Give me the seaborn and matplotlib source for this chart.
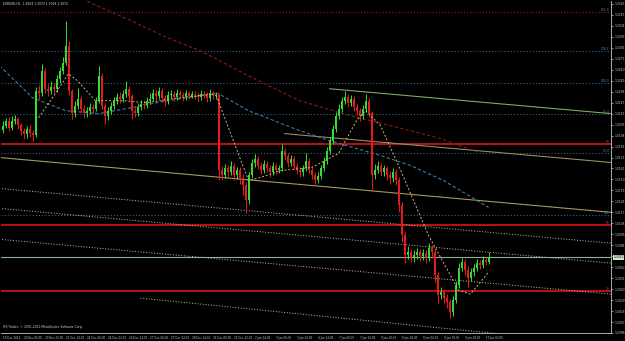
import numpy as np
import pandas as pd
import matplotlib
matplotlib.use("Agg")
import matplotlib.pyplot as plt
import matplotlib.transforms as mtransforms
import seaborn as sns

# ---------------- data ----------------
chart_title = "EURUSD,H1  1.3069 1.3073 1.3068 1.3072"
copyright_text = "IFX Trader, \u00a9 2001-2012 MetaQuotes Software Corp."

first_open = 1.3200
close = [1.3204, 1.3209, 1.3202, 1.3209, 1.3211, 1.3205, 1.3199, 1.3196, 1.3201, 1.3197,
         1.3195, 1.3239, 1.3237, 1.3259, 1.3241, 1.3239, 1.3243, 1.3241, 1.3251, 1.3259,
         1.3267, 1.3284, 1.3239, 1.3217, 1.3224, 1.3231, 1.3221, 1.3217, 1.3219, 1.3223,
         1.3221, 1.3229, 1.3254, 1.3224, 1.3214, 1.3219, 1.3224, 1.3229, 1.3233, 1.3231,
         1.3236, 1.3241, 1.3234, 1.3219, 1.3217, 1.3223, 1.3226, 1.3225, 1.3229, 1.3231,
         1.3237, 1.3234, 1.3239, 1.3232, 1.3229, 1.3235, 1.3236, 1.3233, 1.3237, 1.3235,
         1.3233, 1.3237, 1.3234, 1.3236, 1.3235, 1.3233, 1.3236, 1.3235, 1.3232, 1.3237,
         1.3234, 1.3235, 1.3159, 1.3154, 1.3161, 1.3157, 1.3164, 1.3154, 1.3159, 1.3151,
         1.3144, 1.3129, 1.3154, 1.3167, 1.3171, 1.3164, 1.3159, 1.3166, 1.3161, 1.3157,
         1.3164, 1.3159, 1.3161, 1.3179, 1.3174, 1.3167, 1.3171, 1.3164, 1.3159, 1.3157,
         1.3161, 1.3169, 1.3159, 1.3154, 1.3149, 1.3153, 1.3161, 1.3169, 1.3179, 1.3189,
         1.3201, 1.3214, 1.3221, 1.3229, 1.3233, 1.3227, 1.3231, 1.3223, 1.3219, 1.3214,
         1.3221, 1.3229, 1.3217, 1.3154, 1.3159, 1.3164, 1.3157, 1.3161, 1.3154, 1.3151,
         1.3157, 1.3149, 1.3124, 1.3094, 1.3074, 1.3077, 1.3071, 1.3074, 1.3077, 1.3073,
         1.3076, 1.3071, 1.3081, 1.3077, 1.3054, 1.3034, 1.3037, 1.3031, 1.3027, 1.3017,
         1.3029, 1.3044, 1.3061, 1.3067, 1.3059, 1.3051, 1.3057, 1.3061, 1.3066, 1.3064,
         1.3069, 1.3067, 1.3072]
high = [1.3209, 1.3212, 1.3213, 1.3214, 1.3215, 1.3213, 1.3207, 1.3202, 1.3204, 1.3205,
        1.3200, 1.3243, 1.3245, 1.3266, 1.3262, 1.3246, 1.3249, 1.3247, 1.3255, 1.3263,
        1.3273, 1.3309, 1.3289, 1.3241, 1.3229, 1.3242, 1.3234, 1.3225, 1.3223, 1.3227,
        1.3226, 1.3233, 1.3264, 1.3257, 1.3227, 1.3223, 1.3228, 1.3233, 1.3237, 1.3238,
        1.3240, 1.3249, 1.3244, 1.3236, 1.3223, 1.3227, 1.3230, 1.3230, 1.3233, 1.3237,
        1.3241, 1.3240, 1.3243, 1.3242, 1.3235, 1.3239, 1.3240, 1.3239, 1.3241, 1.3240,
        1.3238, 1.3240, 1.3239, 1.3239, 1.3239, 1.3238, 1.3240, 1.3239, 1.3238, 1.3241,
        1.3239, 1.3238, 1.3237, 1.3164, 1.3166, 1.3165, 1.3169, 1.3167, 1.3163, 1.3163,
        1.3155, 1.3147, 1.3157, 1.3171, 1.3176, 1.3174, 1.3168, 1.3170, 1.3169, 1.3165,
        1.3168, 1.3167, 1.3165, 1.3186, 1.3182, 1.3177, 1.3175, 1.3174, 1.3167, 1.3163,
        1.3165, 1.3177, 1.3172, 1.3162, 1.3157, 1.3157, 1.3165, 1.3173, 1.3183, 1.3193,
        1.3205, 1.3218, 1.3226, 1.3233, 1.3239, 1.3236, 1.3235, 1.3234, 1.3226, 1.3222,
        1.3225, 1.3236, 1.3232, 1.3219, 1.3166, 1.3169, 1.3167, 1.3165, 1.3164, 1.3158,
        1.3161, 1.3160, 1.3152, 1.3127, 1.3097, 1.3083, 1.3080, 1.3079, 1.3081, 1.3080,
        1.3080, 1.3079, 1.3086, 1.3084, 1.3080, 1.3057, 1.3042, 1.3040, 1.3035, 1.3030,
        1.3033, 1.3048, 1.3066, 1.3071, 1.3070, 1.3063, 1.3061, 1.3065, 1.3070, 1.3069,
        1.3073, 1.3072, 1.3077]
low = [1.3197, 1.3202, 1.3199, 1.3200, 1.3206, 1.3201, 1.3195, 1.3191, 1.3192, 1.3193,
       1.3189, 1.3193, 1.3231, 1.3234, 1.3237, 1.3234, 1.3236, 1.3237, 1.3238, 1.3247,
       1.3256, 1.3265, 1.3235, 1.3211, 1.3213, 1.3221, 1.3217, 1.3212, 1.3213, 1.3216,
       1.3217, 1.3219, 1.3227, 1.3221, 1.3206, 1.3210, 1.3216, 1.3221, 1.3226, 1.3227,
       1.3228, 1.3233, 1.3230, 1.3211, 1.3213, 1.3214, 1.3220, 1.3221, 1.3222, 1.3226,
       1.3229, 1.3230, 1.3231, 1.3228, 1.3224, 1.3226, 1.3232, 1.3229, 1.3230, 1.3232,
       1.3229, 1.3230, 1.3231, 1.3232, 1.3231, 1.3228, 1.3230, 1.3232, 1.3228, 1.3229,
       1.3231, 1.3231, 1.3149, 1.3149, 1.3151, 1.3152, 1.3154, 1.3149, 1.3150, 1.3145,
       1.3134, 1.3116, 1.3125, 1.3151, 1.3163, 1.3160, 1.3155, 1.3156, 1.3157, 1.3152,
       1.3154, 1.3155, 1.3156, 1.3158, 1.3170, 1.3163, 1.3164, 1.3160, 1.3155, 1.3152,
       1.3153, 1.3158, 1.3156, 1.3150, 1.3144, 1.3146, 1.3150, 1.3158, 1.3166, 1.3176,
       1.3186, 1.3198, 1.3211, 1.3218, 1.3226, 1.3223, 1.3224, 1.3219, 1.3215, 1.3209,
       1.3211, 1.3218, 1.3213, 1.3139, 1.3150, 1.3156, 1.3153, 1.3153, 1.3149, 1.3145,
       1.3147, 1.3144, 1.3117, 1.3087, 1.3066, 1.3070, 1.3067, 1.3067, 1.3070, 1.3068,
       1.3069, 1.3066, 1.3068, 1.3071, 1.3047, 1.3026, 1.3030, 1.3026, 1.3021, 1.3011,
       1.3013, 1.3026, 1.3041, 1.3058, 1.3054, 1.3042, 1.3048, 1.3053, 1.3058, 1.3060,
       1.3061, 1.3064, 1.3065]

time_labels = ["19 Dec 2012", "20 Dec 06:00", "20 Dec 22:00", "21 Dec 14:00", "24 Dec 06:00",
               "24 Dec 22:00", "26 Dec 14:00", "27 Dec 06:00", "27 Dec 22:00", "28 Dec 14:00",
               "31 Dec 06:00", "31 Dec 22:00", "2 Jan 14:00", "3 Jan 06:00", "3 Jan 22:00",
               "4 Jan 14:00", "7 Jan 06:00", "7 Jan 22:00", "8 Jan 10:00", "8 Jan 18:00",
               "9 Jan 02:00", "9 Jan 10:00", "9 Jan 18:00", "10 Jan 02:00"]

# moving averages (bar, value)
ma_fast_bar = [12, 16, 22, 25, 31, 40, 48, 57, 71, 82, 86, 93, 103, 112, 118, 121, 126, 132, 142, 152, 156, 162]
ma_fast_val = [1.3212, 1.3229, 1.3256, 1.3249, 1.3229, 1.3229, 1.3227, 1.3231, 1.3236, 1.3149, 1.3152,
               1.3159, 1.3162, 1.3176, 1.3209, 1.3219, 1.3204, 1.3164, 1.3094, 1.3039, 1.3035, 1.3057]
ma_mid_bar = [-1, 10, 21, 32, 43, 55, 66, 72, 82, 99, 109, 126, 136, 147, 162]
ma_mid_val = [1.3264, 1.3232, 1.3219, 1.3216, 1.3222, 1.3229, 1.3234, 1.3236, 1.3219, 1.3199,
              1.3189, 1.3174, 1.3164, 1.3149, 1.3122]
ma_slow_bar = [20, 28, 43, 55, 66, 82, 99, 116, 132, 146, 159]
ma_slow_val = [1.3340, 1.3329, 1.3309, 1.3292, 1.3279, 1.3254, 1.3229, 1.3214, 1.3202, 1.3191, 1.3177]

fib_levels = [1.3318, 1.3279, 1.3247, 1.3216, 1.3177, 1.3114]
fib_labels = ["161.8", "138.2", "100.0", "76.4", "61.8", "0.0"]
sr_levels = [1.3186, 1.3104, 1.3038]
sr_labels = ["R1", "S1", "S2"]

# trend / channel lines: start bar, start price, end bar, end price
trend_b0 = [-1, -1, -1, -1, 46, 109, 94]
trend_p0 = [1.3172, 1.3141, 1.3121, 1.3090, 1.3031, 1.3241, 1.3196]
trend_b1 = [203, 203, 203, 203, 203, 203, 203]
trend_p1 = [1.3117, 1.3086, 1.3066, 1.3035, 1.2984, 1.3216, 1.3167]
trend_kind = ["solid", "dotted", "dotted", "dotted", "dotted", "green", "solid2"]

# ---------------- styling ----------------
sns.set_theme(style="dark", rc={"axes.facecolor": "black", "figure.facecolor": "black"})
plt.rcParams["font.family"] = ["DejaVu Sans"]

BULL = "#33e033"
BEAR = "#e81c1c"
AXC = "#c8c8c8"
FS = 2.2
FSX = 1.95

fig = plt.figure(figsize=(6.25, 3.41), dpi=100)
ax = fig.add_axes([1 / 625, 8 / 341, 610 / 625, 332 / 341])
ax.set_facecolor("black")

n = len(close)
opens = [first_open] + close[:-1]
df = pd.DataFrame({"bar": np.arange(n), "open": opens, "high": high, "low": low, "close": close})
df["bull"] = df["close"] >= df["open"]
cols = np.where(df["bull"], BULL, BEAR)

# horizontal levels
for i, lv in enumerate(fib_levels):
    c = "#a02222" if i == 0 else "#2d6f93"
    ax.axhline(lv, color=c, lw=0.75, ls=(0, (1, 2)), zorder=1)
for lv in sr_levels:
    ax.axhline(lv, color="#c81414", lw=1.3, zorder=1)

# trend lines
styles = {"solid": dict(color="#a89860", lw=0.8, ls="-"),
          "dotted": dict(color="#c8c89a", lw=0.7, ls=(0, (1, 1.8))),
          "green": dict(color="#7cae5c", lw=0.8, ls="-"),
          "solid2": dict(color="#9c8a62", lw=0.8, ls="-")}
for b0, p0, b1, p1, k in zip(trend_b0, trend_p0, trend_b1, trend_p1, trend_kind):
    sns.lineplot(x=[b0, b1], y=[p0, p1], ax=ax, zorder=2, **styles[k])

# moving averages
sns.lineplot(x=ma_slow_bar, y=ma_slow_val, ax=ax, color="#8e1818", lw=0.8, ls=(0, (3, 2)), zorder=2)
sns.lineplot(x=ma_mid_bar, y=ma_mid_val, ax=ax, color="#3a7ca8", lw=0.8, ls=(0, (3, 2)), zorder=2)

# candles
ax.vlines(df["bar"], df["low"], df["high"], colors=cols, lw=0.7, zorder=3)
body = (df["close"] - df["open"]).abs().clip(lower=0.00006)
ax.bar(df["bar"], body, bottom=np.minimum(df["open"], df["close"]), width=0.62,
       color=cols, linewidth=0, zorder=4)

sns.lineplot(x=ma_fast_bar, y=ma_fast_val, ax=ax, color="#c9b97a", lw=0.7, ls=(0, (2, 2)), zorder=5)

# current price line
last = close[-1]
ax.axhline(last, color="#8fb0a2", lw=0.8, zorder=2)

# axes limits / ticks
ax.set_xlim(-0.5, 202.83)
ax.set_ylim(1.2996, 1.3329)
ticks_y = [1.3326 - 0.0011 * k for k in range(31)]
ax.yaxis.tick_right()
ax.set_yticks(ticks_y)
ax.set_yticklabels([f"{t:.4f}" for t in ticks_y])
ax.set_xticks(list(range(0, 7 * len(time_labels), 7)))
ax.set_xticklabels(time_labels, ha="left")
ax.tick_params(axis="y", colors=AXC, labelsize=FS, length=1.6, width=0.5, pad=0.8, direction="out")
ax.tick_params(axis="x", colors=AXC, labelsize=FSX, length=1.6, width=0.5, pad=0.6, direction="out")
for lab in ax.get_xticklabels() + ax.get_yticklabels():
    lab.set_color(AXC)
ax.set_xlabel("")
ax.set_ylabel("")
ax.grid(False)
for s in ["top", "left"]:
    ax.spines[s].set_visible(False)
for s in ["right", "bottom"]:
    ax.spines[s].set_visible(True)
    ax.spines[s].set_color(AXC)
    ax.spines[s].set_linewidth(0.6)

# labels on right for levels
tr = mtransforms.blended_transform_factory(ax.transAxes, ax.transData)
for lv, t in zip(fib_levels, fib_labels):
    ax.text(0.997, lv, t, transform=tr, ha="right", va="bottom", fontsize=FS, color="#4a8cc0")
for lv, t in zip(sr_levels, sr_labels):
    ax.text(0.997, lv, t, transform=tr, ha="right", va="bottom", fontsize=FS, color="#e03030")
ax.text(1.004, last, f"{last:.4f}", transform=tr, ha="left", va="center", fontsize=FS,
        color="black", bbox=dict(boxstyle="square,pad=0.15", fc="#cfe6cf", ec="none"), zorder=10,
        clip_on=False)

fig.text(3 / 625, 1 - 2 / 341, chart_title, ha="left", va="top", fontsize=FS, color="#e0e0e0")
fig.text(3 / 625, 1 - 327 / 341, copyright_text, ha="left", va="center", fontsize=FS, color="#d0d0d0")

fig.savefig("out.png", dpi=100, facecolor="black")
